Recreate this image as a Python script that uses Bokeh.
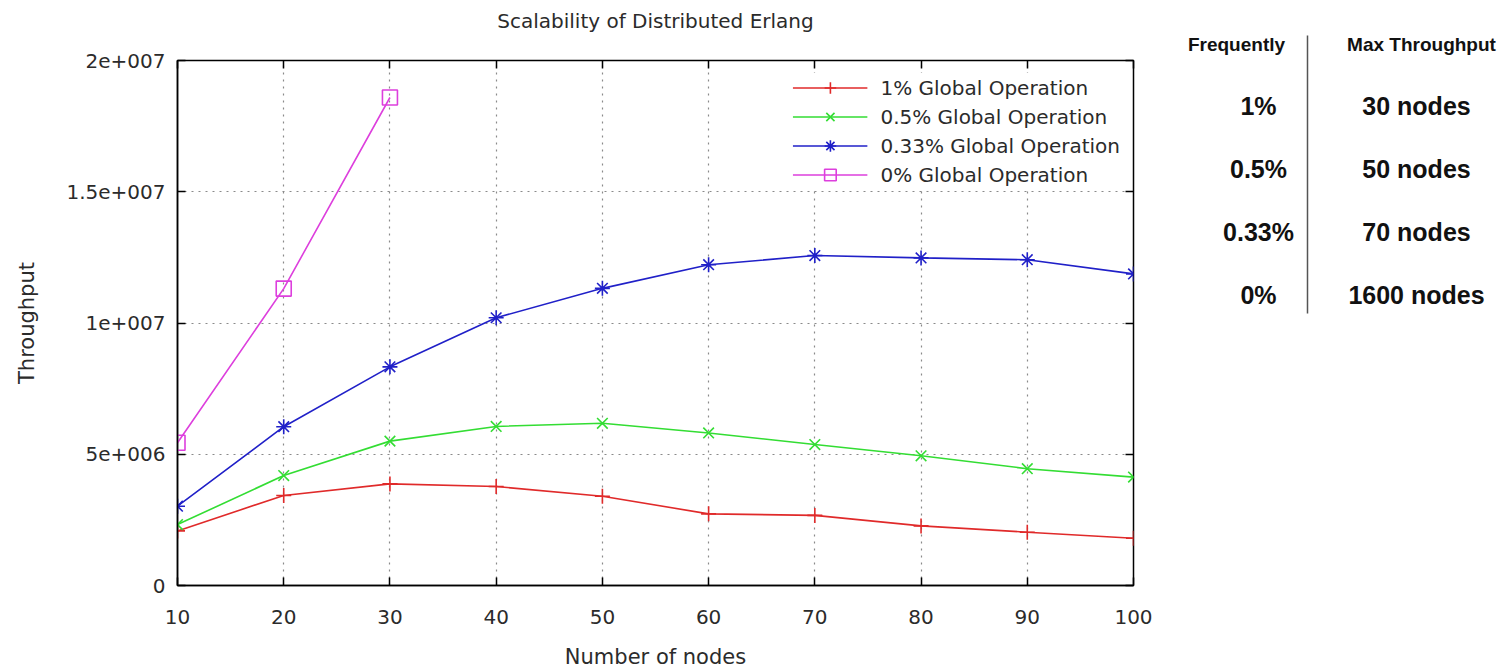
from bokeh.plotting import figure
from bokeh.models import Range1d, FixedTicker, LinearAxis, Legend, LegendItem, ColumnDataSource
from bokeh.layouts import row, column
from bokeh.embed import file_html
from bokeh.resources import INLINE
from bokeh.core.properties import value

# ---- data ----
nodes = [10, 20, 30, 40, 50, 60, 70, 80, 90, 100]
ops_1pct = [2.08e6, 3.43e6, 3.87e6, 3.77e6, 3.40e6, 2.73e6, 2.67e6, 2.27e6, 2.03e6, 1.80e6]
ops_05pct = [2.32e6, 4.19e6, 5.50e6, 6.06e6, 6.18e6, 5.81e6, 5.37e6, 4.94e6, 4.45e6, 4.13e6]
ops_033pct = [3.02e6, 6.05e6, 8.33e6, 10.20e6, 11.32e6, 12.22e6, 12.57e6, 12.48e6, 12.41e6, 11.87e6]
nodes_0pct = [10, 20, 30]
ops_0pct = [5.44e6, 11.31e6, 18.59e6]

x_ticks = [10, 20, 30, 40, 50, 60, 70, 80, 90, 100]
y_ticks = [0, 5e6, 1e7, 1.5e7, 2e7]
y_tick_labels = ["0", "5e+006", "1e+007", "1.5e+007", "2e+007"]

chart_title = "Scalability of Distributed Erlang"
series_names = ["1% Global Operation", "0.5% Global Operation",
                "0.33% Global Operation", "0% Global Operation"]
series_colors = ["#e02a2a", "#33dd33", "#2020c8", "#dd3fdd"]
series_markers = ["cross", "x", "asterisk", "square"]

table_header = ["Frequently", "Max Throughput"]
freq_labels = ["1%", "0.5%", "0.33%", "0%"]
max_tp_labels = ["30 nodes", "50 nodes", "70 nodes", "1600 nodes"]

FONT = "DejaVu Sans"
TXT = "#2b2b2b"

# ---- main chart ----
p = figure(width=1160, height=671, output_backend="svg", toolbar_location=None,
           x_range=Range1d(10, 100), y_range=Range1d(0, 2e7),
           min_border_left=177, min_border_right=27, min_border_top=60, min_border_bottom=86)

p.outline_line_color = "black"
p.outline_line_width = 1.5
p.background_fill_color = "white"
p.border_fill_color = "white"

p.xaxis.ticker = FixedTicker(ticks=x_ticks)
p.yaxis.ticker = FixedTicker(ticks=y_ticks)
p.yaxis.major_label_overrides = {t: l for t, l in zip(y_ticks, y_tick_labels)}
for ax in (p.xaxis[0], p.yaxis[0]):
    ax.major_tick_in = 8
    ax.major_tick_out = 0
    ax.minor_tick_in = 0
    ax.minor_tick_out = 0
    ax.axis_line_color = "black"
    ax.axis_line_width = 1.5
    ax.major_tick_line_color = "black"
    ax.major_tick_line_width = 1.5
    ax.major_label_text_font = FONT
    ax.major_label_text_font_size = "20px"
    ax.major_label_text_color = TXT
    ax.axis_label_text_font = FONT
    ax.axis_label_text_font_size = "21px"
    ax.axis_label_text_font_style = "normal"
    ax.axis_label_text_color = TXT
p.xaxis.axis_label = "Number of nodes"
p.yaxis.axis_label = "Throughput"
p.xaxis.major_label_standoff = 24
p.yaxis.major_label_standoff = 12
p.xaxis.axis_label_standoff = 18
p.yaxis.axis_label_standoff = 24

# mirrored ticks on top (carrying the chart title) and right (no labels)
top_ax = LinearAxis(ticker=FixedTicker(ticks=x_ticks),
                    major_label_overrides={t: "" for t in x_ticks},
                    major_tick_in=8, major_tick_out=0, minor_tick_in=0, minor_tick_out=0,
                    axis_line_color=None, major_tick_line_color="black", major_tick_line_width=1.5,
                    axis_label=chart_title, axis_label_standoff=28,
                    axis_label_text_font=FONT, axis_label_text_font_size="20px",
                    axis_label_text_font_style="normal", axis_label_text_color=TXT)
right_ax = LinearAxis(ticker=FixedTicker(ticks=y_ticks),
                      major_label_overrides={t: "" for t in y_ticks},
                      major_tick_in=8, major_tick_out=0, minor_tick_in=0, minor_tick_out=0,
                      axis_line_color=None, major_tick_line_color="black", major_tick_line_width=1.5)
p.add_layout(top_ax, "above")
p.add_layout(right_ax, "right")

p.xgrid.grid_line_color = "#8a8a8a"
p.ygrid.grid_line_color = "#8a8a8a"
p.xgrid.grid_line_dash = "2 5"
p.ygrid.grid_line_dash = "2 5"
p.xgrid.grid_line_width = 1.2
p.ygrid.grid_line_width = 1.2

all_x = [nodes, nodes, nodes, nodes_0pct]
all_y = [ops_1pct, ops_05pct, ops_033pct, ops_0pct]
items = []
for name, xs, ys, col, mk in zip(series_names, all_x, all_y, series_colors, series_markers):
    src = ColumnDataSource(dict(x=xs, y=ys))
    ln = p.line("x", "y", source=src, line_color=col, line_width=1.6)
    sc = p.scatter("x", "y", source=src, marker=mk, size=15, line_color=col, line_width=1.6,
                   fill_color=None)
    items.append(LegendItem(label=name, renderers=[ln, sc]))

legend = Legend(items=items, location="top_right")
legend.label_text_font = FONT
legend.label_text_font_size = "20px"
legend.label_text_color = TXT
legend.border_line_color = None
legend.background_fill_color = "white"
legend.background_fill_alpha = 1.0
legend.glyph_width = 75
legend.glyph_height = 29
legend.label_height = 29
legend.spacing = 0
legend.padding = 4
legend.margin = 13
legend.label_standoff = 13
p.add_layout(legend)

# ---- right-hand table ----
t = figure(width=349, height=671, output_backend="svg", toolbar_location=None,
           x_range=Range1d(0, 349), y_range=Range1d(8.94, -1.659),
           min_border=0, min_border_left=0, min_border_right=0, min_border_top=0, min_border_bottom=0)
t.axis.visible = False
t.grid.visible = False
t.outline_line_color = None
t.background_fill_color = "white"
t.border_fill_color = "white"

col_x = [98, 256]
head_x = [76, 261]
rows = list(range(len(freq_labels)))
t.text(x=head_x, y=[-0.963, -0.963], text=table_header, text_font=value("Liberation Sans"),
       text_font_size="19px", text_font_style="bold", text_align="center",
       text_baseline="middle", text_color="#111111")
t.text(x=[col_x[0]] * len(rows), y=rows, text=freq_labels, text_font=value("Liberation Sans"),
       text_font_size="25px", text_font_style="bold", text_align="center",
       text_baseline="middle", text_color="#111111")
t.text(x=[col_x[1]] * len(rows), y=rows, text=max_tp_labels, text_font=value("Liberation Sans"),
       text_font_size="25px", text_font_style="bold", text_align="center",
       text_baseline="middle", text_color="#111111")
t.segment(x0=[147], y0=[-1.106], x1=[147], y1=[3.286], line_color="#555555", line_width=1.5)

layout = row(p, column(t))
open("out.html", "w").write(file_html(layout, INLINE))
